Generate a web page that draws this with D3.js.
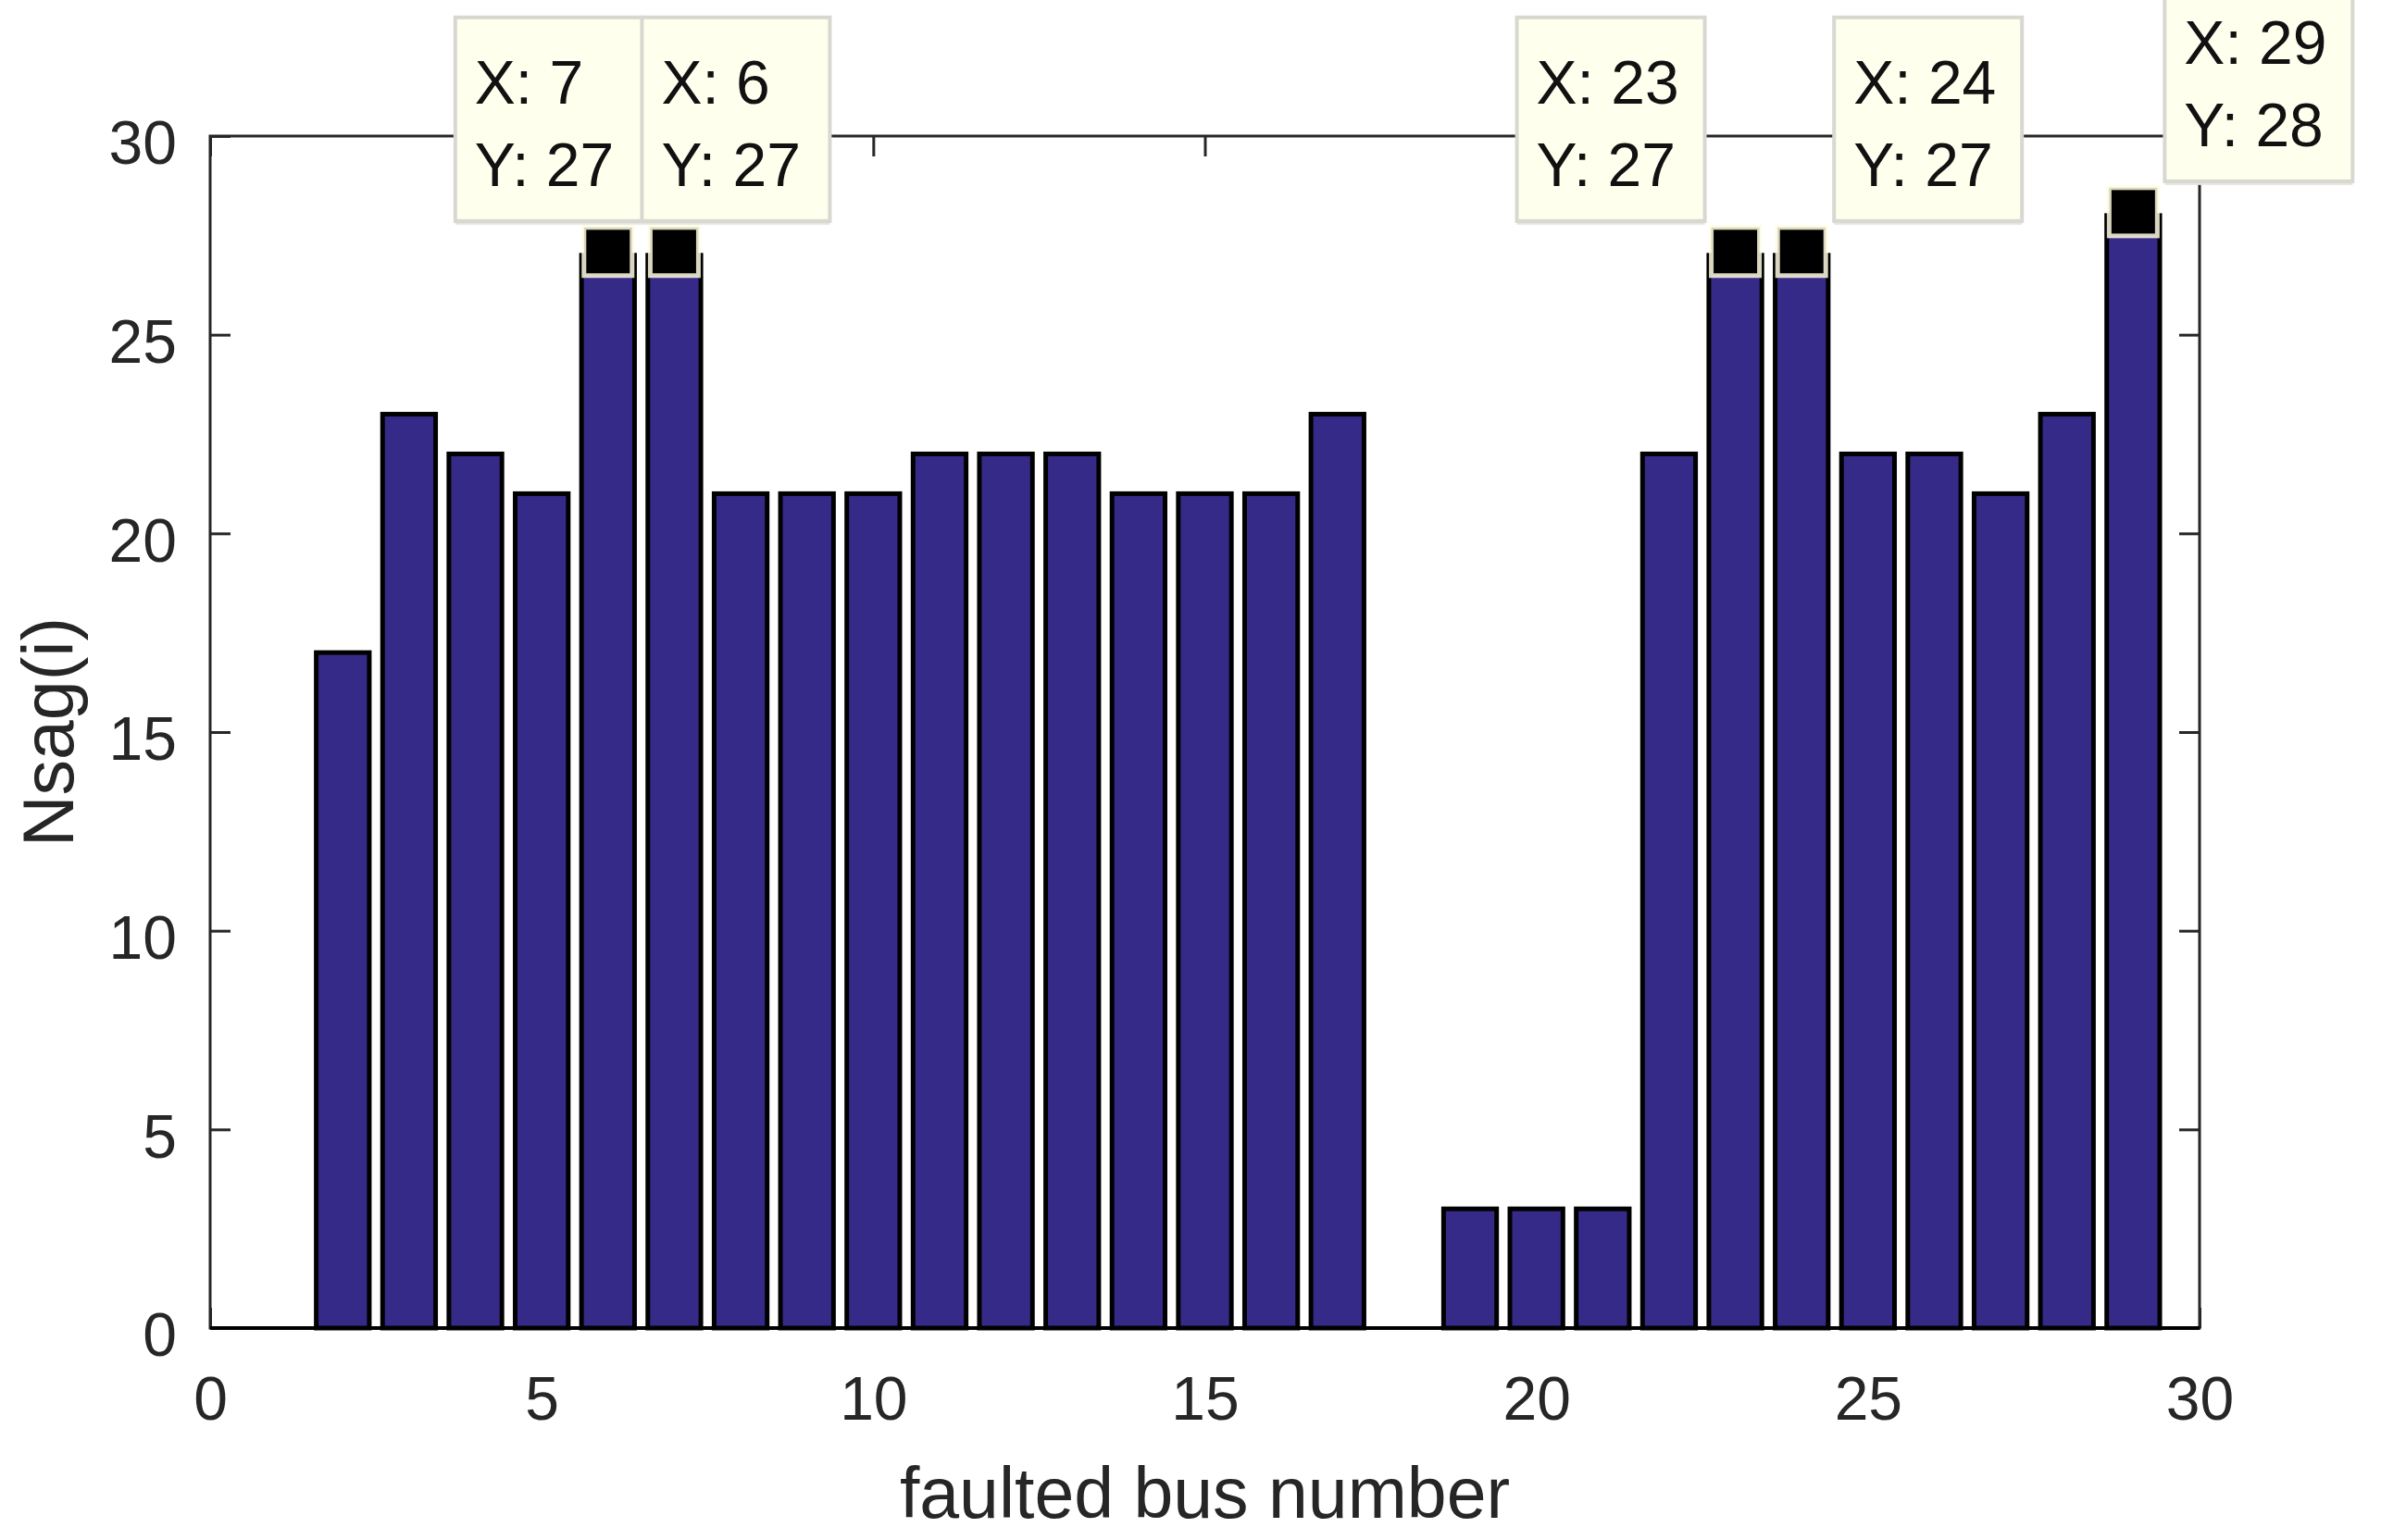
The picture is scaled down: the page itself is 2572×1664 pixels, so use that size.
<!DOCTYPE html>
<html>
<head>
<meta charset="utf-8">
<script src="https://cdn.jsdelivr.net/npm/d3@7"></script>
<style>
  html, body { margin: 0; padding: 0; background: #ffffff; }
  svg { display: block; }
  text { font-family: "Liberation Sans", Arial, Helvetica, sans-serif; }
</style>
</head>
<body>
<svg id="chart" width="2572" height="1664"></svg>
<script>
// ---- data ----
const busNumbers = [1,2,3,4,5,6,7,8,9,10,11,12,13,14,15,16,17,18,19,20,21,22,23,24,25,26,27,28,29];
const nsagValues = [0,17,23,22,21,27,27,21,21,21,22,22,22,21,21,21,23,0,3,3,3,22,27,27,22,22,21,23,28];
const xTicks = [0,5,10,15,20,25,30];
const yTicks = [0,5,10,15,20,25,30];
const xLabel = "faulted bus number";
const yLabel = "Nsag(i)";
// data tips: bar on which the marker sits, and the text shown in the tip
const tipBars = [6,7,23,24,29];
const tipTextX = [7,6,23,24,29];
const tipTextY = [27,27,27,27,28];

// ---- layout ----
const svg = d3.select("#chart");
const L = 227, R = 2376, T = 147, B = 1435;
const x = d3.scaleLinear().domain([0,30]).range([L,R]);
const y = d3.scaleLinear().domain([0,30]).range([B,T]);
const axisColor = "#262626";
const barFill = "#352a87";
const barWidth = 0.8;
const tipOffsets = [-165,-35,-236,35,34]; // box left relative to marker centre (px)

// axes box
svg.append("rect")
  .attr("x", L).attr("y", T).attr("width", R-L).attr("height", B-T)
  .attr("fill", "none").attr("stroke", axisColor).attr("stroke-width", 3);

function styleAxis(g) {
  g.select(".domain").remove();
  g.selectAll(".tick line").attr("stroke", axisColor).attr("stroke-width", 3);
  g.selectAll(".tick text").attr("fill", axisColor)
    .style("font-family", '"Liberation Sans", Arial, sans-serif')
    .style("font-size", "66px");
}

const gB = svg.append("g").attr("transform", `translate(0,${B})`)
  .call(d3.axisBottom(x).tickValues(xTicks).tickSizeInner(-22).tickSizeOuter(0).tickPadding(52).tickFormat(d3.format("d")));
styleAxis(gB);

const gT = svg.append("g").attr("transform", `translate(0,${T})`)
  .call(d3.axisTop(x).tickValues(xTicks).tickSizeInner(-22).tickSizeOuter(0).tickFormat(""));
styleAxis(gT);

const gL = svg.append("g").attr("transform", `translate(${L},0)`)
  .call(d3.axisLeft(y).tickValues(yTicks).tickSizeInner(-22).tickSizeOuter(0).tickPadding(36).tickFormat(d3.format("d")));
styleAxis(gL);
gL.selectAll(".tick text").attr("dy", "0.45em");

const gR = svg.append("g").attr("transform", `translate(${R},0)`)
  .call(d3.axisRight(y).tickValues(yTicks).tickSizeInner(-22).tickSizeOuter(0).tickFormat(""));
styleAxis(gR);

// baseline
svg.append("line")
  .attr("x1", x(0)).attr("x2", x(30)).attr("y1", y(0)).attr("y2", y(0))
  .attr("stroke", "#000").attr("stroke-width", 4);

// bars
svg.append("g").selectAll("rect")
  .data(busNumbers.map((b,i) => ({b, v: nsagValues[i]})))
  .join("rect")
  .attr("x", d => x(d.b - barWidth/2))
  .attr("width", d => x(d.b + barWidth/2) - x(d.b - barWidth/2))
  .attr("y", d => y(d.v))
  .attr("height", d => y(0) - y(d.v))
  .attr("fill", barFill)
  .attr("stroke", "#000")
  .attr("stroke-width", 5);

// axis labels
svg.append("text")
  .attr("x", (L+R)/2).attr("y", 1640)
  .attr("text-anchor", "middle")
  .attr("fill", axisColor)
  .style("font-size", "77px")
  .text(xLabel);

svg.append("text")
  .attr("transform", `translate(79,${(T+B)/2}) rotate(-90)`)
  .attr("text-anchor", "middle")
  .attr("fill", axisColor)
  .style("font-size", "77px")
  .text(yLabel);

// data tips
const tips = tipBars.map((b,i) => ({
  b, v: nsagValues[busNumbers.indexOf(b)], tx: tipTextX[i], ty: tipTextY[i], off: tipOffsets[i]
}));

const tg = svg.append("g");
tips.forEach(d => {
  const mx = x(d.b), my = y(d.v) - 4;
  // marker
  tg.append("rect")
    .attr("x", mx - 26).attr("y", my - 26).attr("width", 52).attr("height", 52)
    .attr("fill", "#000").attr("stroke", "#fffbe0").attr("stroke-width", 5).attr("stroke-opacity", 0.85);
  // box
  const bw = 203, bh = 220;
  const bx = mx + d.off, by = my - 33 - bh;
  tg.append("rect")
    .attr("x", bx).attr("y", by + 4).attr("width", bw).attr("height", bh)
    .attr("fill", "#e6e6de");
  tg.append("rect")
    .attr("x", bx).attr("y", by).attr("width", bw).attr("height", bh)
    .attr("fill", "#ffffee").attr("stroke", "#d8d8d0").attr("stroke-width", 4);
  tg.append("text")
    .attr("x", bx + 21).attr("y", by + 93)
    .attr("fill", "#111").style("font-size", "66px")
    .text("X: " + d.tx);
  tg.append("text")
    .attr("x", bx + 21).attr("y", by + 182)
    .attr("fill", "#111").style("font-size", "66px")
    .text("Y: " + d.ty);
});
</script>
</body>
</html>
